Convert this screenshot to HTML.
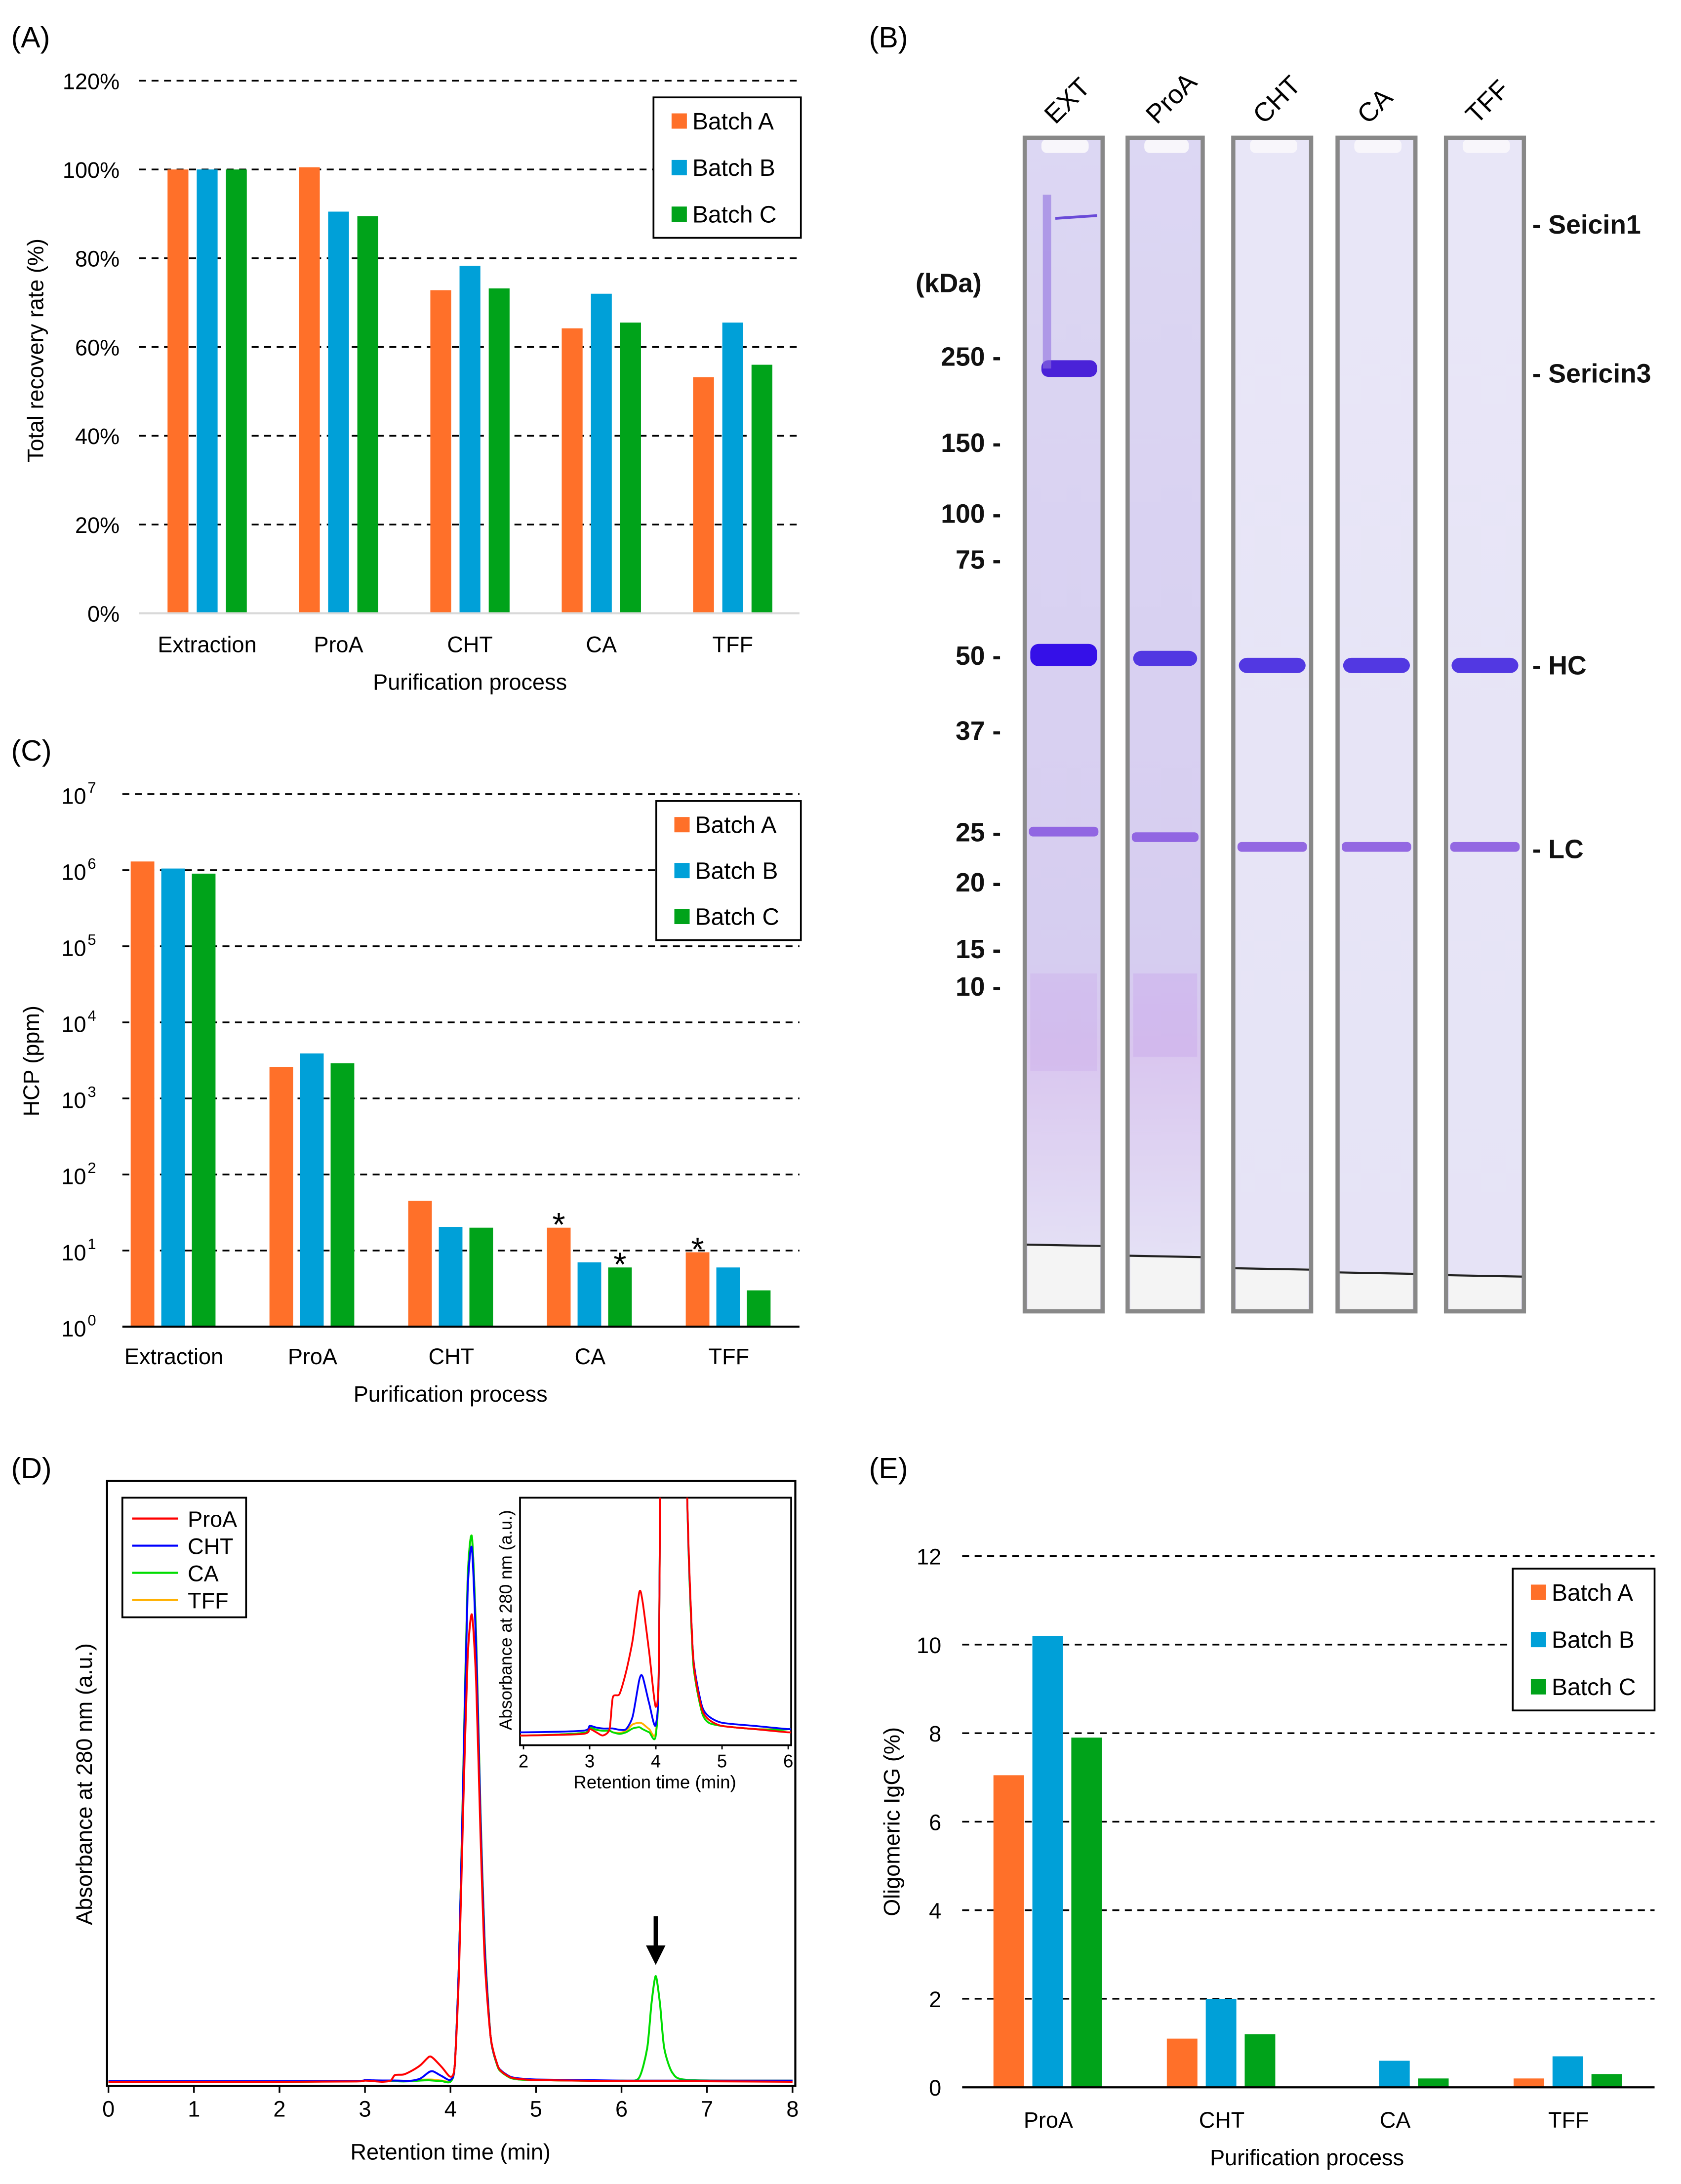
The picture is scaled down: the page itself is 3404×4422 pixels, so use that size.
<!DOCTYPE html>
<html><head><meta charset="utf-8">
<style>
html,body{margin:0;padding:0;background:#fff;}
svg{display:block;font-family:"Liberation Sans",Arial,sans-serif;}
</style></head>
<body>
<svg id="fig" width="3404" height="4422" viewBox="0 0 1209 1570.5" xmlns="http://www.w3.org/2000/svg">
<defs>
<linearGradient id="gExt" x1="0" y1="0" x2="0" y2="1">
<stop offset="0" stop-color="#dcd7f3"/><stop offset="0.7" stop-color="#d6cdf0"/><stop offset="0.78" stop-color="#d9c6ef"/><stop offset="0.95" stop-color="#e4e0f5"/></linearGradient>
<linearGradient id="gLight" x1="0" y1="0" x2="0" y2="1">
<stop offset="0" stop-color="#e8e6f7"/><stop offset="1" stop-color="#e6e3f6"/></linearGradient>
<clipPath id="insetClip"><rect x="374" y="1077" width="195" height="178"/></clipPath>
</defs>
<g id="root"></g>
</svg>
<script>
// ---------- Panel A data ----------
const catsA = ["Extraction","ProA","CHT","CA","TFF"];
const batchA_A = [100,100.5,72.8,64.2,53.2];
const batchB_A = [100,90.5,78.3,72.0,65.5];
const batchC_A = [100,89.5,73.2,65.5,56.0];
const ticksA = [0,20,40,60,80,100,120];
const tickLabelsA = ["0%","20%","40%","60%","80%","100%","120%"];
// ---------- Panel C data ----------
const catsC = ["Extraction","ProA","CHT","CA","TFF"];
const batchA_C = [1.3e6,2600,45,20,9.5];
const batchB_C = [1.05e6,3900,20.5,7,6];
const batchC_C = [0.9e6,2900,20,6,3];
const ticksC = [0,1,2,3,4,5,6,7];
const asterisksC = [[3,0],[3,2],[4,0]]; // [category index, batch index]
// ---------- Panel D data ----------
const timesD = [0,2,2.9,3.0,3.1,3.2,3.3,3.35,3.45,3.55,3.65,3.75,3.8,3.9,4.0,4.05,4.1,4.15,4.2,4.25,4.3,4.35,4.4,4.47,4.55,4.6,4.7,4.8,5.0,5.5,6.0,6.2,6.3,6.35,6.4,6.45,6.5,6.6,6.8,8];
const proA_D = [0,0,0.0005,0.002,0.001,0,0.002,0.012,0.013,0.02,0.03,0.045,0.042,0.026,0.009,0.03,0.2,0.5,0.76,0.84,0.72,0.45,0.22,0.08,0.03,0.018,0.008,0.005,0.003,0.002,0.001,0.001,0.001,0.001,0.001,0.001,0.001,0.001,0.001,0];
const cht_D = [0.001,0.001,0.0015,0.003,0.0025,0.0022,0.0022,0.0022,0.0018,0.002,0.006,0.0175,0.0185,0.01,0.0035,0.03,0.22,0.55,0.88,0.96,0.78,0.48,0.24,0.08,0.03,0.019,0.009,0.006,0.004,0.003,0.002,0.002,0.002,0.002,0.002,0.002,0.002,0.002,0.002,0.002];
const ca_D = [0,0,0.0008,0.0025,0.0018,0.0015,0.0015,0.001,0.0005,0.001,0.0022,0.0026,0.002,0.001,0.0002,0.03,0.22,0.56,0.9,0.98,0.8,0.49,0.25,0.08,0.028,0.017,0.007,0.004,0.003,0.002,0.002,0.006,0.06,0.14,0.19,0.14,0.06,0.015,0.003,0.002];
const tff_D = [0,0,0.0008,0.0025,0.0018,0.0015,0.0015,0.001,0.0008,0.0015,0.0035,0.004,0.0037,0.002,0.0012,0.03,0.22,0.56,0.9,0.98,0.8,0.49,0.25,0.08,0.028,0.017,0.007,0.004,0.003,0.002,0.002,0.002,0.002,0.002,0.002,0.002,0.002,0.002,0.002,0.002];
const xTicksD = [0,1,2,3,4,5,6,7,8];
const xTicksInset = [2,3,4,5,6];
const arrowTimeD = 6.4;
// ---------- Panel E data ----------
const catsE = ["ProA","CHT","CA","TFF"];
const batchA_E = [7.05,1.1,0,0.2];
const batchB_E = [10.2,2.0,0.6,0.7];
const batchC_E = [7.9,1.2,0.2,0.3];
const ticksE = [0,2,4,6,8,10,12];
// ---------- Panel B (gel) data ----------
const lanesB = ["EXT","ProA","CHT","CA","TFF"];
const markersB = ["250","150","100","75","50","37","25","20","15","10"];
const markerYB = [256,318,369,402,471,525,598,634,682,709];

const COL = ["#ff7029","#00a0d8","#00a31a"];
const NS = "http://www.w3.org/2000/svg";
const root = document.getElementById("root");
function mk(tag, attrs, parent, txt){
  const e = document.createElementNS(NS, tag);
  for (const k in attrs) e.setAttribute(k, attrs[k]);
  if (txt !== undefined) e.textContent = txt;
  (parent||root).appendChild(e);
  return e;
}
function grp(name){ const g = mk("g",{});   return g; }

[["(A)",8,34],["(B)",625,34],["(C)",8,547],["(D)",8,1063],["(E)",625,1063]].forEach(p=>{
  const t = mk("text",{x:p[1],y:p[2],"font-size":21,fill:"#000"},root,p[0]);
  
  
});

function legend(g, x, y, w, h, prefix){
  const r = mk("rect",{x:x,y:y,width:w,height:h,fill:"#fff",stroke:"#000","stroke-width":1.3},g);
  
  
  ["Batch A","Batch B","Batch C"].forEach((n,i)=>{
    const cy = y + 17 + i*(h-34)/2;
    const s = mk("rect",{x:x+13,y:cy-5.5,width:11,height:11,fill:COL[i]},g);
    
    
    const t = mk("text",{x:x+28,y:cy+6,"font-size":17},g,n);
    
    
  });
}

// ===== Panel A =====
(function(){
  const g = grp("panel-a-recovery-chart");
  const x0=100,x1=575,yb=441,yt=58;
  const y = v => yb - (v/120)*(yb-yt);
  const cx = i => 149 + i*94.5;
  ticksA.forEach((t,i)=>{
    if (t>0){ const l = mk("line",{x1:x0,x2:x1,y1:y(t),y2:y(t),stroke:"#000","stroke-width":1.2,"stroke-dasharray":"5,4"},g);
        }
    const tl = mk("text",{x:86,y:y(t)+6,"font-size":16,"text-anchor":"end"},g,tickLabelsA[i]);
     
  });
  [batchA_A,batchB_A,batchC_A].forEach((arr,b)=>{
    arr.forEach((v,i)=>{
      const r = mk("rect",{x:cx(i)-28.5+b*21,y:y(v),width:15,height:yb-y(v),fill:COL[b]},g);
      
      
    });
  });
  const ax = mk("line",{x1:x0,x2:x1,y1:yb,y2:yb,stroke:"#d9d9d9","stroke-width":1.5},g);
   
  catsA.forEach((c,i)=>{ const t = mk("text",{x:cx(i),y:469,"font-size":16,"text-anchor":"middle"},g,c);
      });
  const xt = mk("text",{x:338,y:496,"font-size":16,"text-anchor":"middle"},g,"Purification process");
   
  const yt2 = mk("text",{x:0,y:0,"font-size":16,"text-anchor":"middle",transform:"translate(31,252) rotate(-90)"},g,"Total recovery rate (%)");
   
  legend(g,470,70,106,101,"a");
})();

// ===== Panel C =====
(function(){
  const g = grp("panel-c-hcp-chart");
  const x0=88,x1=575,yb=954,yt=571;
  const y = v => yb - (Math.log10(v)/7)*(yb-yt);
  const cx = i => 125 + i*99.8;
  ticksC.forEach(t=>{
    const yy = yb - t/7*(yb-yt);
    if (t>0){ const l = mk("line",{x1:x0,x2:x1,y1:yy,y2:yy,stroke:"#000","stroke-width":1.2,"stroke-dasharray":"5,4"},g);
        }
    const tl = mk("text",{x:62,y:yy+7,"font-size":16,"text-anchor":"end"},g,"10");
     
    const sp = mk("text",{x:63,y:yy-1,"font-size":11},g,String(t));
     
  });
  const series=[batchA_C,batchB_C,batchC_C];
  series.forEach((arr,b)=>{
    arr.forEach((v,i)=>{
      const r = mk("rect",{x:cx(i)-31+b*22,y:y(v),width:17,height:yb-y(v),fill:COL[b]},g);
      
      
    });
  });
  asterisksC.forEach(a=>{
    const v = series[a[1]][a[0]];
    const t = mk("text",{x:cx(a[0])-31+a[1]*22+8.5,y:y(v)+6,"font-size":24,"text-anchor":"middle"},g,"*");
     
  });
  const ax = mk("line",{x1:x0,x2:x1,y1:yb,y2:yb,stroke:"#000","stroke-width":1.5},g);
   
  catsC.forEach((c,i)=>{ const t = mk("text",{x:cx(i),y:981,"font-size":16,"text-anchor":"middle"},g,c);
      });
  const xt = mk("text",{x:324,y:1008,"font-size":16,"text-anchor":"middle"},g,"Purification process");
   
  const yt2 = mk("text",{x:0,y:0,"font-size":16,"text-anchor":"middle",transform:"translate(28,763) rotate(-90)"},g,"HCP (ppm)");
   
  legend(g,472,576,104,100,"c");
})();

// ===== Panel E =====
(function(){
  const g = grp("panel-e-oligomer-chart");
  const x0=692,x1=1190,yb=1501,yt=1119;
  const y = v => yb - (v/12)*(yb-yt);
  const cx = i => 754 + i*124.7;
  ticksE.forEach(t=>{
    if (t>0){ const l = mk("line",{x1:x0,x2:x1,y1:y(t),y2:y(t),stroke:"#000","stroke-width":1.2,"stroke-dasharray":"5,4"},g);
        }
    const tl = mk("text",{x:677,y:y(t)+6,"font-size":16,"text-anchor":"end"},g,String(t));
     
  });
  [batchA_E,batchB_E,batchC_E].forEach((arr,b)=>{
    arr.forEach((v,i)=>{
      if (v<=0) return;
      const r = mk("rect",{x:cx(i)-39.5+b*28,y:y(v),width:22,height:yb-y(v),fill:COL[b]},g);
      
      
    });
  });
  const ax = mk("line",{x1:x0,x2:x1,y1:yb,y2:yb,stroke:"#000","stroke-width":1.5},g);
   
  catsE.forEach((c,i)=>{ const t = mk("text",{x:cx(i),y:1530,"font-size":16,"text-anchor":"middle"},g,c);
      });
  const xt = mk("text",{x:940,y:1557,"font-size":16,"text-anchor":"middle"},g,"Purification process");
   
  const yt2 = mk("text",{x:0,y:0,"font-size":16,"text-anchor":"middle",transform:"translate(647,1310) rotate(-90)"},g,"Oligomeric IgG (%)");
   
  legend(g,1088,1128,102,102,"e");
})();

// ===== Panel D =====
(function(){
  const g = grp("panel-d-chromatogram");
  const fx0=77,fx1=572,fy0=1065,fy1=1500;
  const X = t => 78 + t*61.5;
  const Y = v => 1497 - v*400;
  const fr = mk("rect",{x:fx0,y:fy0,width:fx1-fx0,height:fy1-fy0,fill:"none",stroke:"#000","stroke-width":1.5},g);
   
  xTicksD.forEach(t=>{
    const l = mk("line",{x1:X(t),x2:X(t),y1:fy1,y2:fy1+5,stroke:"#000","stroke-width":1.2},g);
     
    const tl = mk("text",{x:X(t),y:1522,"font-size":16,"text-anchor":"middle"},g,String(t));
     
  });
  const series = [[tff_D,"#ffb000","tff"],[ca_D,"#00dd00","ca"],[cht_D,"#0000ff","cht"],[proA_D,"#ff0000","proa"]];
  function path(arr, Xf, Yf){
    const pts = arr.map((v,i)=>[Xf(timesD[i]),Yf(v)]);
    let d = "M"+pts[0][0].toFixed(2)+","+pts[0][1].toFixed(2);
    for (let i=0;i<pts.length-1;i++){
      const p0=pts[Math.max(0,i-1)],p1=pts[i],p2=pts[i+1],p3=pts[Math.min(pts.length-1,i+2)];
      const k=0.12;
      const c1=[p1[0]+(p2[0]-p0[0])*k,p1[1]+(p2[1]-p0[1])*k];
      const c2=[p2[0]-(p3[0]-p1[0])*k,p2[1]-(p3[1]-p1[1])*k];
      d+=" C"+c1[0].toFixed(2)+","+c1[1].toFixed(2)+" "+c2[0].toFixed(2)+","+c2[1].toFixed(2)+" "+p2[0].toFixed(2)+","+p2[1].toFixed(2);
    }
    return d;
  }
  series.forEach(s=>{
    const p = mk("path",{d:path(s[0],X,Y),fill:"none",stroke:s[1],"stroke-width":1.4,"stroke-linejoin":"round"},g);
     
  });
  const ca = ca_D[timesD.indexOf(arrowTimeD)];
  const ay = Y(ca) - 8;
  const al = mk("line",{x1:X(arrowTimeD),x2:X(arrowTimeD),y1:ay-35,y2:ay-12,stroke:"#000","stroke-width":3},g);
   
  const ah = mk("polygon",{points:`${X(arrowTimeD)-7},${ay-14} ${X(arrowTimeD)+7},${ay-14} ${X(arrowTimeD)},${ay}`,fill:"#000"},g);
   
  const lb = mk("rect",{x:88,y:1077,width:89,height:86,fill:"#fff",stroke:"#000","stroke-width":1.3},g);
   
  [["ProA","#ff0000"],["CHT","#0000ff"],["CA","#00dd00"],["TFF","#ffb000"]].forEach((e,i)=>{
    const yy = 1092 + i*19.5;
    const l = mk("line",{x1:95,x2:128,y1:yy,y2:yy,stroke:e[1],"stroke-width":1.5},g);
     
    const t = mk("text",{x:135,y:yy+6,"font-size":16},g,e[0]);
     
  });
  const xt = mk("text",{x:324,y:1553,"font-size":16,"text-anchor":"middle"},g,"Retention time (min)");
   
  const yt2 = mk("text",{x:0,y:0,"font-size":16,"text-anchor":"middle",transform:"translate(66,1283) rotate(-90)"},g,"Absorbance at 280 nm (a.u.)");
   
  // inset
  const gi = mk("g",{},g);
   
  const XI = t => 376.5 + (t-2)*47.6;
  const YI = v => 1248 - v*2290;
  const ib = mk("rect",{x:374,y:1077,width:195,height:178,fill:"#fff",stroke:"#000","stroke-width":1.3},gi);
   
  const gc = mk("g",{"clip-path":"url(#insetClip)"},gi);
  series.forEach(s=>{
    const p = mk("path",{d:path(s[0],XI,YI),fill:"none",stroke:s[1],"stroke-width":1.3,"stroke-linejoin":"round"},gc);
     
  });
  xTicksInset.forEach(t=>{
    const l = mk("line",{x1:XI(t),x2:XI(t),y1:1255,y2:1258,stroke:"#000","stroke-width":1},gi);
     
    const tl = mk("text",{x:XI(t),y:1271,"font-size":13,"text-anchor":"middle"},gi,String(t));
     
  });
  const it = mk("text",{x:471,y:1286,"font-size":13,"text-anchor":"middle"},gi,"Retention time (min)");
   
  const iy = mk("text",{x:0,y:0,"font-size":12.5,"text-anchor":"middle",transform:"translate(368,1165) rotate(-90)"},gi,"Absorbance at 280 nm (a.u.)");
   
})();

// ===== Panel B (gel) =====
(function(){
  const g = grp("panel-b-sds-page-gel");
  const laneX = [737,811,887,962,1040];
  const laneW = [56,54,56,56,56];
  const hcY = [471,474,479,479,479];
  const lcY = [598,602,609,609,609];
  const bottomY = [895,903,912,915,917];
  lanesB.forEach((n,i)=>{
    const x = laneX[i], w = laneW[i];
    const lg = mk("g",{},g);
     
    mk("rect",{x:x,y:99,width:w,height:844,fill:i<2?"url(#gExt)":"url(#gLight)"},lg);
    mk("rect",{x:x+2,y:bottomY[i],width:w-4,height:943-bottomY[i],fill:"#f4f4f4"},lg);
    mk("line",{x1:x+1,x2:x+w-1,y1:bottomY[i],y2:bottomY[i]+1,stroke:"#222","stroke-width":1.5},lg);
    mk("rect",{x:x+12,y:100,width:w-22,height:10,rx:4,fill:"#f8f6fb"},lg);
    const hb = mk("rect",{x:x+4,y:hcY[i]-(i==0?8:6),width:w-8,height:i==0?16:11,rx:6,fill:i==0?"#3510e8":"#4a2ee0",opacity:i==0?1:0.95},lg);
     
    const lbd = mk("rect",{x:x+3,y:lcY[i]-3.5,width:w-6,height:7,rx:3,fill:"#8a5ae0",opacity:0.9},lg);
     
    if (i===0){
      const s3 = mk("rect",{x:x+12,y:259,width:w-16,height:12,rx:5,fill:"#4a22d8"},lg);
       
      mk("rect",{x:x+13,y:140,width:6,height:125,fill:"#8f70e0",opacity:0.6},lg);
      mk("line",{x1:x+22,x2:x+52,y1:157,y2:155,stroke:"#6a4ad8","stroke-width":2},lg);
      mk("rect",{x:x+4,y:700,width:w-8,height:70,fill:"#c8a8ea",opacity:0.35},lg);
    }
    if (i===1){ mk("rect",{x:x+4,y:700,width:w-8,height:60,fill:"#c9a6ea",opacity:0.4},lg); }
    const fr = mk("rect",{x:x,y:99,width:w,height:844,fill:"none",stroke:"#888","stroke-width":3},lg);
     
    const lab = mk("text",{x:0,y:0,"font-size":19,transform:`translate(${x+w/2-6},90) rotate(-45)`},g,n);
     
  });
  const kda = mk("text",{x:706,y:210,"font-size":19,"font-weight":"bold","text-anchor":"end",fill:"#111"},g,"(kDa)");
   
  markersB.forEach((m,i)=>{
    const t = mk("text",{x:720,y:markerYB[i]+7,"font-size":19,"font-weight":"bold","text-anchor":"end",fill:"#111"},g,m+" -");
     
  });
  [["- Seicin1",168],["- Sericin3",275],["- HC",485],["- LC",617]].forEach(a=>{
    const t = mk("text",{x:1102,y:a[1],"font-size":19,"font-weight":"bold",fill:"#111"},g,a[0]);
     
  });
})();
</script>
</body></html>
